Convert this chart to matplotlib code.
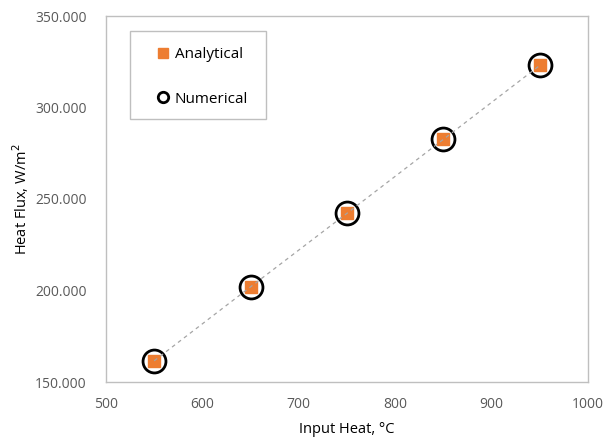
import matplotlib

matplotlib.use("Agg")
import matplotlib.pyplot as plt
from matplotlib.lines import Line2D
from matplotlib.patches import Rectangle
from matplotlib.ticker import FormatStrFormatter

# values
input_heat = [550, 650, 750, 850, 950]
analytical_flux = [161.6, 202.0, 242.2, 282.6, 323.0]
numerical_flux = [161.6, 202.0, 242.2, 282.6, 323.0]

plt.rcParams["font.family"] = ["Open Sans", "DejaVu Sans"]

fig = plt.figure(figsize=(6.06, 4.37), dpi=100)
ax = fig.add_axes([106 / 606, 1 - 382 / 437, (588 - 106) / 606, (382 - 16) / 437])

ax.plot(input_heat, numerical_flux, linestyle="none", marker="o", markersize=16.5,
        markerfacecolor="none", markeredgecolor="black", markeredgewidth=2.0, zorder=3)
ax.plot(input_heat, analytical_flux, linestyle="none", marker="s", markersize=9,
        color="#ED7D31", zorder=4)
ax.plot(input_heat, numerical_flux, linestyle=(0, (3, 3)), color="#A5A5A5", lw=0.9, zorder=5)

ax.set_xlim(500, 1000)
ax.set_ylim(150, 350)
ax.set_xticks([500, 600, 700, 800, 900, 1000])
ax.set_yticks([150, 200, 250, 300, 350])
ax.yaxis.set_major_formatter(FormatStrFormatter("%.3f"))
ax.tick_params(axis="both", length=0, labelsize=10, labelcolor="#595959")
ax.tick_params(axis="y", pad=14)
ax.tick_params(axis="x", pad=11)

for spine in ax.spines.values():
    spine.set_color("#BFBFBF")
    spine.set_linewidth(1.0)

ax.set_xlabel("Input Heat, °C", fontsize=10.5, labelpad=7)
ax.set_ylabel("Heat Flux, W/m$^2$", fontsize=10.5, labelpad=3)

# legend box drawn separately so its size matches the original layout
ax.add_patch(Rectangle((24 / 482, 1 - 103 / 366), 136 / 482, 88 / 366,
                       transform=ax.transAxes, facecolor="white", edgecolor="#BFBFBF",
                       lw=1.0, zorder=6))

legend_handles = [
    Line2D([], [], linestyle="none", marker="s", markersize=7.5, color="#ED7D31"),
    Line2D([], [], linestyle="none", marker="o", markersize=7.5, markerfacecolor="none",
           markeredgecolor="black", markeredgewidth=2.0),
]
leg = ax.legend(
    legend_handles,
    ["Analytical", "Numerical"],
    loc="upper left",
    bbox_to_anchor=(48 / 482, 1 - 31 / 366),
    frameon=False,
    fontsize=11,
    labelspacing=1.95,
    handlelength=1.2,
    handletextpad=0.15,
    borderpad=0,
    borderaxespad=0,
)
leg.set_zorder(7)

fig.savefig("out.png", dpi=100)
